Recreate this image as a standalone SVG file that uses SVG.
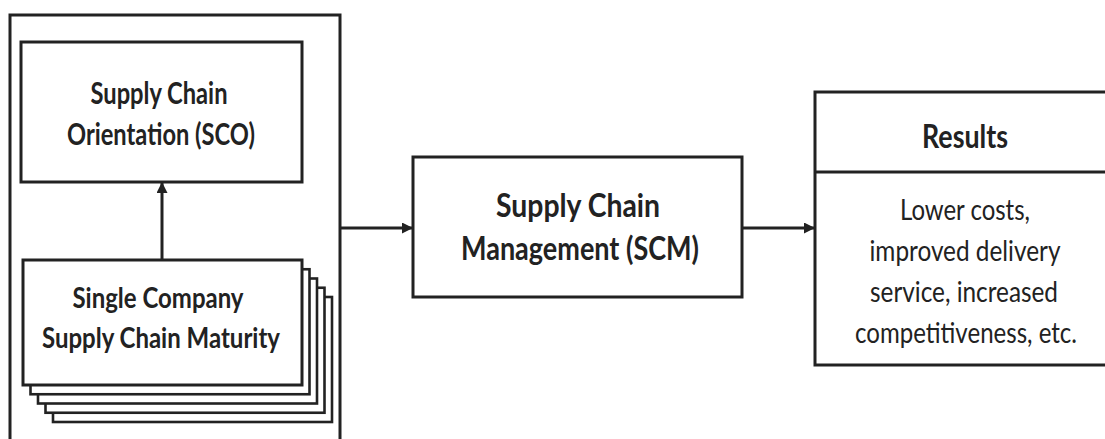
<svg xmlns="http://www.w3.org/2000/svg" width="1105" height="439" viewBox="0 0 1105 439">
  <style>
    .box { fill: #fff; stroke: #222; stroke-width: 3; }
    .stk { fill: #fff; stroke: #222; stroke-width: 2.6; }
    .conn { stroke: #222; stroke-width: 3; fill: none; }
    .t { font-family: Lato, "Open Sans", "Liberation Sans", sans-serif; fill: #222; text-anchor: middle; }
    .b { font-weight: bold; }
  </style>
  <defs>
    <marker id="arrow" markerUnits="userSpaceOnUse" markerWidth="12" markerHeight="12" refX="11" refY="5.5" orient="auto">
      <path d="M0,0 L11,5.5 L0,11 Z" fill="#222"/>
    </marker>
  </defs>
  <rect width="1105" height="439" fill="#fff"/>

  <g id="scope">
    <rect class="box" x="10" y="15" width="330" height="460"/>
  </g>

  <g id="sco">
    <rect class="box" x="21" y="42" width="281" height="140"/>
    <text class="t b" x="159" y="104" font-size="30" textLength="137" lengthAdjust="spacingAndGlyphs">Supply Chain</text>
    <text class="t b" x="161" y="145" font-size="30" textLength="188" lengthAdjust="spacingAndGlyphs">Orientation (SCO)</text>
  </g>

  <g id="single-company">
    <rect class="stk" x="53" y="297" width="279" height="125"/>
    <rect class="stk" x="45.5" y="287.75" width="279" height="125"/>
    <rect class="stk" x="38" y="278.5" width="279" height="125"/>
    <rect class="stk" x="30.5" y="269.25" width="279" height="125"/>
    <rect class="box" x="23" y="260" width="279" height="125"/>
    <text class="t b" x="158" y="308" font-size="29" textLength="171" lengthAdjust="spacingAndGlyphs">Single Company</text>
    <text class="t b" x="161" y="348" font-size="29" textLength="238" lengthAdjust="spacingAndGlyphs">Supply Chain Maturity</text>
  </g>

  <g id="scm">
    <rect class="box" x="413" y="157" width="329" height="140"/>
    <text class="t b" x="578" y="217" font-size="33" textLength="164" lengthAdjust="spacingAndGlyphs">Supply Chain</text>
    <text class="t b" x="580" y="260" font-size="33" textLength="238" lengthAdjust="spacingAndGlyphs">Management (SCM)</text>
  </g>

  <g id="results">
    <rect class="box" x="815" y="92" width="310" height="273"/>
    <line class="conn" x1="815" y1="172" x2="1125" y2="172"/>
    <text class="t b" x="965" y="148" font-size="32" textLength="86" lengthAdjust="spacingAndGlyphs">Results</text>
    <text class="t" x="965" y="220" font-size="28" textLength="130" lengthAdjust="spacingAndGlyphs">Lower costs,</text>
    <text class="t" x="965" y="261" font-size="28" textLength="191" lengthAdjust="spacingAndGlyphs">improved delivery</text>
    <text class="t" x="964" y="302" font-size="28" textLength="188" lengthAdjust="spacingAndGlyphs">service, increased</text>
    <text class="t" x="966" y="343" font-size="28" textLength="222" lengthAdjust="spacingAndGlyphs">competitiveness, etc.</text>
  </g>

  <g id="connectors">
    <line class="conn" x1="162" y1="260" x2="162" y2="182" marker-end="url(#arrow)"/>
    <line class="conn" x1="340" y1="228" x2="413" y2="228" marker-end="url(#arrow)"/>
    <line class="conn" x1="742" y1="228" x2="815" y2="228" marker-end="url(#arrow)"/>
  </g>
</svg>
